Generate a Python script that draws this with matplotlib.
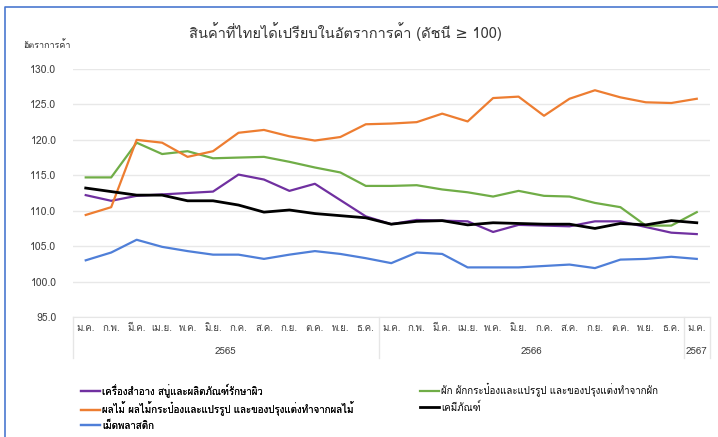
import matplotlib
matplotlib.use("Agg")
import matplotlib.pyplot as plt
from matplotlib import font_manager
from matplotlib.ft2font import FT2Font
from matplotlib.lines import Line2D
import matplotlib.transforms as mtransforms

# look for a font that can draw Thai, fall back to DejaVu Sans
thai_font = None
for f in font_manager.fontManager.ttflist:
    try:
        if 0x0E01 in FT2Font(f.fname).get_charmap():
            thai_font = f.name
            break
    except Exception:
        pass
families = ['DejaVu Sans']
if thai_font:
    families = [thai_font, 'DejaVu Sans']
plt.rcParams['font.family'] = families

months = ['ม.ค.', 'ก.พ.', 'มี.ค.', 'เม.ย.', 'พ.ค.', 'มิ.ย.', 'ก.ค.', 'ส.ค.', 'ก.ย.', 'ต.ค.', 'พ.ย.', 'ธ.ค.']
x_labels = months + months + ['ม.ค.']
years = ['2565', '2566', '2567']
year_counts = [12, 12, 1]

cosmetics = [112.2, 111.4, 112.1, 112.3, 112.5, 112.7, 115.1, 114.4, 112.8, 113.8, 111.5, 109.2,
             108.1, 108.7, 108.6, 108.5, 107.0, 108.0, 107.9, 107.8, 108.5, 108.5, 107.7, 106.9, 106.7]
vegetables = [114.7, 114.7, 119.6, 118.0, 118.4, 117.4, 117.5, 117.6, 116.9, 116.1, 115.4, 113.5,
              113.5, 113.6, 113.0, 112.6, 112.0, 112.8, 112.1, 112.0, 111.1, 110.5, 107.9, 107.9, 109.8]
fruits = [109.4, 110.5, 120.0, 119.6, 117.6, 118.4, 121.0, 121.4, 120.5, 119.9, 120.4, 122.2,
          122.3, 122.5, 123.7, 122.6, 125.9, 126.1, 123.4, 125.8, 127.0, 126.0, 125.3, 125.2, 125.8]
chemicals = [113.2, 112.7, 112.2, 112.2, 111.4, 111.4, 110.8, 109.8, 110.1, 109.6, 109.3, 109.0,
             108.1, 108.5, 108.6, 108.0, 108.3, 108.2, 108.1, 108.1, 107.5, 108.2, 108.0, 108.6, 108.3]
plastic = [103.0, 104.1, 105.9, 104.9, 104.3, 103.8, 103.8, 103.2, 103.8, 104.3, 103.9, 103.3,
           102.6, 104.1, 103.9, 102.0, 102.0, 102.0, 102.2, 102.4, 101.9, 103.1, 103.2, 103.5, 103.2]

names = ['เครื่องสำอาง สบู่และผลิตภัณฑ์รักษาผิว',
         'ผัก ผักกระป๋องและแปรรูป และของปรุงแต่งทำจากผัก',
         'ผลไม้ ผลไม้กระป๋องและแปรรูป และของปรุงแต่งทำจากผลไม้',
         'เคมีภัณฑ์',
         'เม็ดพลาสติก']
colors = ['#7030A0', '#70AD47', '#ED7D31', '#000000', '#4F7FD8']

W, H = 718, 437
fig = plt.figure(figsize=(W / 100, H / 100), dpi=100)
ax = fig.add_axes([73 / W, 1 - 317 / H, 636.5 / W, 248 / H])

x = list(range(len(x_labels)))
series = [cosmetics, vegetables, fruits, chemicals, plastic]
lines = []
for s, name, c in zip(series, names, colors):
    lw = 2.0 if c == '#000000' else 1.6
    ln, = ax.plot(x, s, color=c, lw=lw, label=name, zorder=3)
    lines.append(ln)

ax.set_xlim(-0.5, len(x) - 0.5)
ax.set_ylim(95, 130)
ax.set_yticks([95, 100, 105, 110, 115, 120, 125, 130])
ax.set_yticklabels(['%.1f' % v for v in ax.get_yticks()], fontsize=7.5, color='#404040')
ax.yaxis.grid(True, color='#e8e8e8', lw=1)
ax.set_axisbelow(True)
ax.tick_params(axis='y', length=0, pad=12)
ax.set_xticks(x)
ax.set_xticklabels(x_labels, fontsize=7, color='#404040')
ax.tick_params(axis='x', length=0, pad=5)
for sp in ['top', 'right', 'left']:
    ax.spines[sp].set_visible(False)
ax.spines['bottom'].set_color('#e6e6e6')

# year groups below the month labels
trans = mtransforms.blended_transform_factory(ax.transData, ax.transAxes)
start = -0.5
bounds = [start]
for yr, n in zip(years, year_counts):
    ax.text(start + n / 2, -35 / 248, yr, transform=trans, ha='center', va='center',
            fontsize=7, color='#404040')
    start += n
    bounds.append(start)
for b in bounds:
    ax.plot([b, b], [0, -41 / 248], transform=trans, color='#e6e6e6', lw=1, clip_on=False)

fig.text(345 / W, 1 - 32 / H, 'สินค้าที่ไทยได้เปรียบในอัตราการค้า (ดัชนี ≥ 100)',
         ha='center', va='center', fontsize=10.5, color='#333333')
fig.text(23 / W, 1 - 45 / H, 'อัตราการค้า', ha='left', va='center', fontsize=6.5, color='#333333')

# legend in two columns
leg1 = fig.legend([lines[0], lines[2], lines[4]], [names[0], names[2], names[4]],
                  loc='upper left', bbox_to_anchor=(81 / W, 1 - 383 / H), frameon=False,
                  fontsize=7, handlelength=2.0, handletextpad=0.2, labelspacing=0.45, borderpad=0,
                  borderaxespad=0)
leg2 = fig.legend([lines[1], lines[3]], [names[1], names[3]],
                  loc='upper left', bbox_to_anchor=(420 / W, 1 - 383 / H), frameon=False,
                  fontsize=7, handlelength=2.0, handletextpad=0.2, labelspacing=0.45, borderpad=0,
                  borderaxespad=0)
fig.add_artist(leg1)

# blue frame, top and left edge
fig.add_artist(Line2D([4.5 / W, 4.5 / W, 1], [0, 1 - 7 / H, 1 - 7 / H], color='#4a78d0', lw=1.2,
                      transform=fig.transFigure))

fig.savefig('out.png', dpi=100)
